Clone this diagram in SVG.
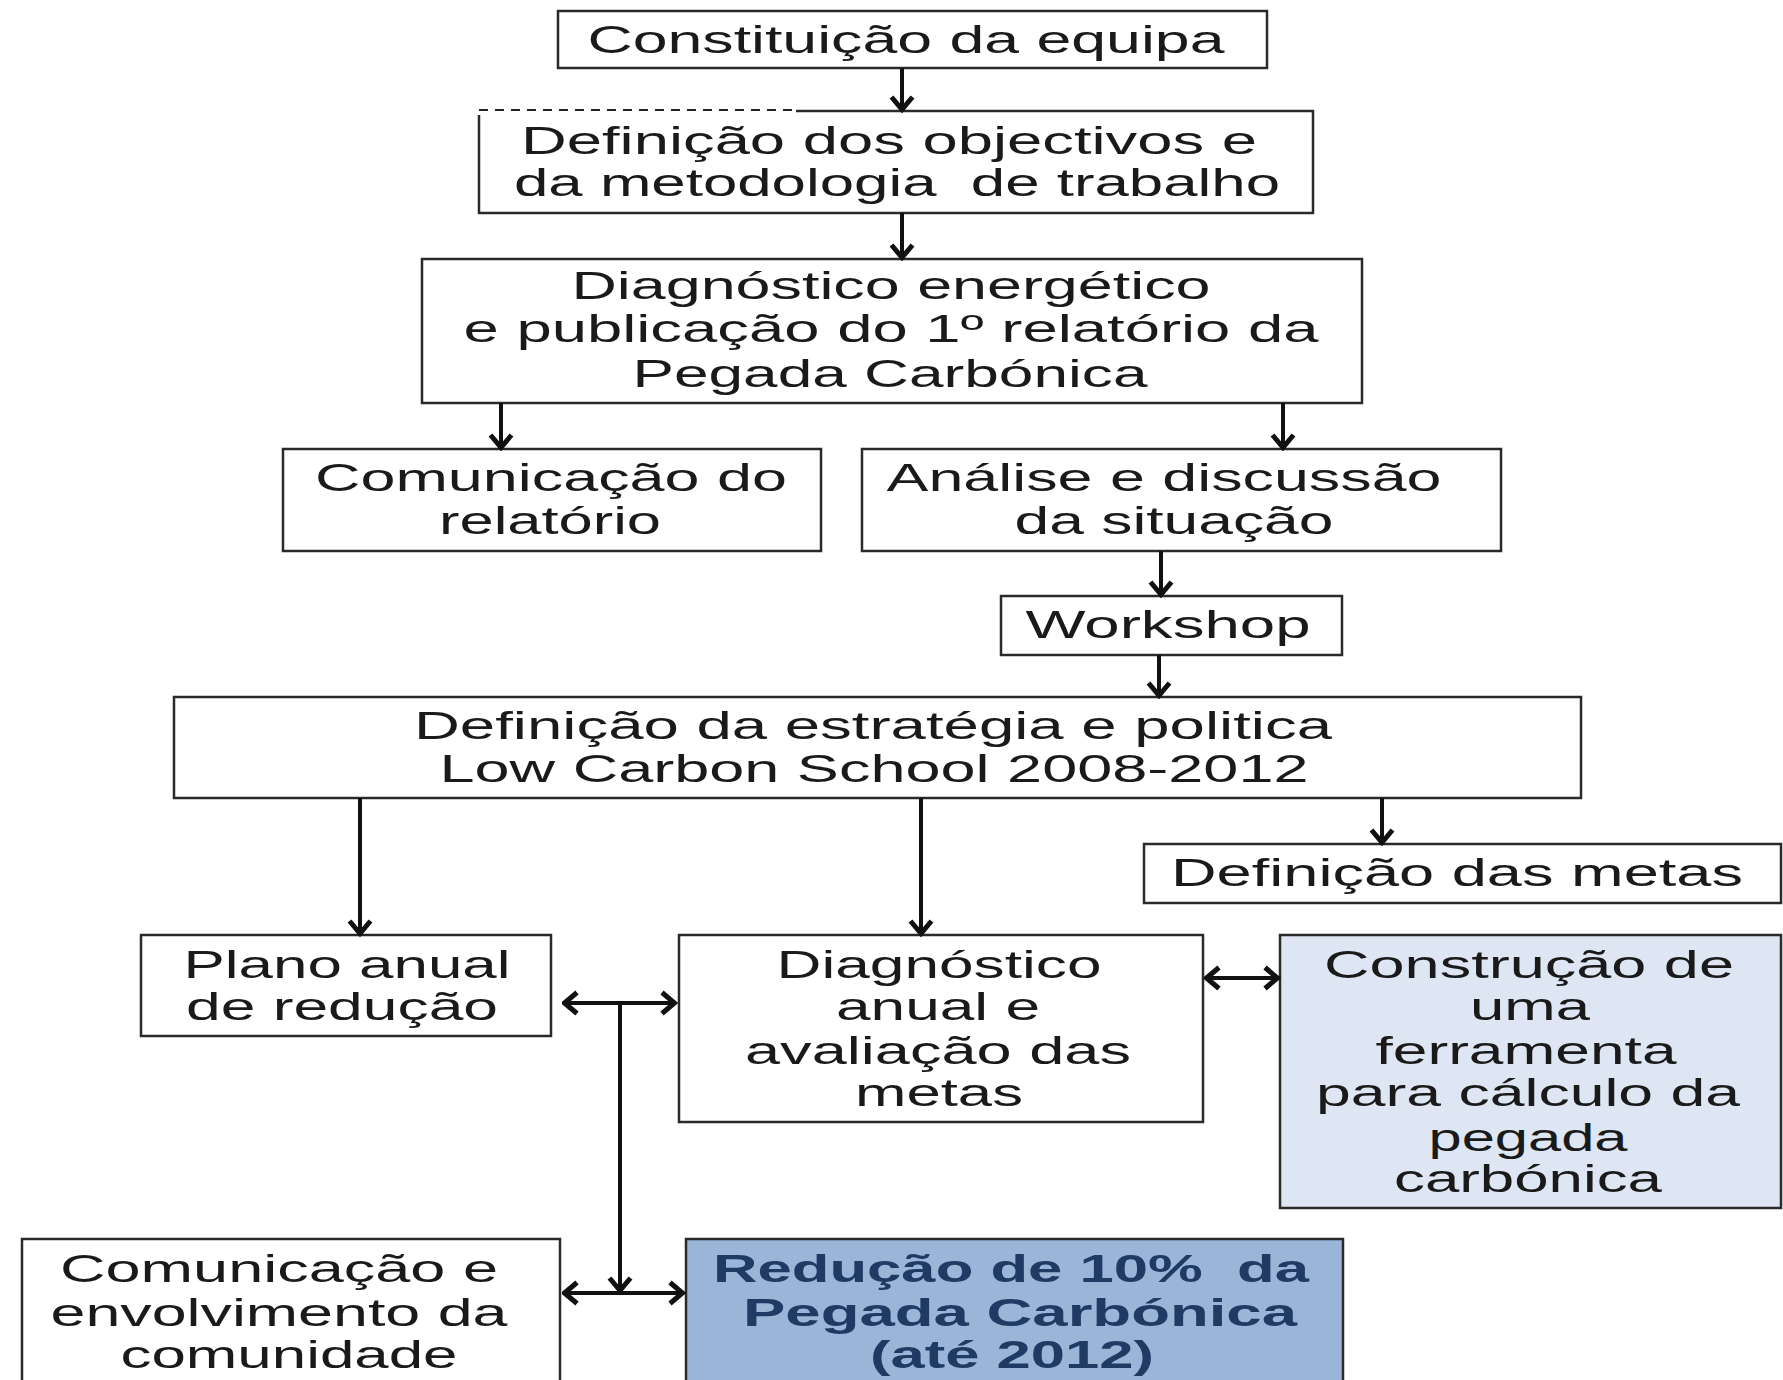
<svg xmlns="http://www.w3.org/2000/svg" width="1783" height="1380" viewBox="0 0 1783 1380">
<style>
.box{fill:#ffffff;stroke:#2a2a2a;stroke-width:2.5}
.light{fill:#dde6f2}
.dark{fill:#9bb5d8}
.t{font-family:"Liberation Sans",Arial,sans-serif;font-size:38px;fill:#1a1a1a;text-anchor:middle}
.tb{font-family:"Liberation Sans",Arial,sans-serif;font-size:38px;font-weight:bold;fill:#1f3a63;text-anchor:middle}
.c{fill:none;stroke:#111;stroke-width:4}
</style>
<defs>
<marker id="ah" viewBox="0 0 18 26" refX="15.5" refY="13" markerWidth="18" markerHeight="26" orient="auto-start-reverse" markerUnits="userSpaceOnUse">
<path d="M2.5,2.5 L15,13 L2.5,23.5" fill="none" stroke="#111" stroke-width="5" stroke-linejoin="miter"/>
</marker>
</defs>
<rect width="1783" height="1380" fill="#ffffff"/>

<g id="n1">
<rect class="box" x="558" y="11" width="709" height="57"/>
<text class="t" x="906" y="53" textLength="637" lengthAdjust="spacingAndGlyphs">Constituição da equipa</text>
</g>

<g id="n2">
<path d="M796,111 L1313,111 L1313,213 L479,213 L479,115" fill="#ffffff" stroke="#2a2a2a" stroke-width="2.5"/>
<line x1="479" y1="110" x2="796" y2="110" stroke="#222" stroke-width="2" stroke-dasharray="9 7"/>
<text class="t" x="889" y="154" textLength="736" lengthAdjust="spacingAndGlyphs">Definição dos objectivos e</text>
<text class="t" x="897" y="196" textLength="766" lengthAdjust="spacingAndGlyphs" xml:space="preserve">da metodologia  de trabalho</text>
</g>

<g id="n3">
<rect class="box" x="422" y="259" width="940" height="144"/>
<text class="t" x="891" y="299" textLength="639" lengthAdjust="spacingAndGlyphs">Diagnóstico energético</text>
<text class="t" x="891" y="342" textLength="855" lengthAdjust="spacingAndGlyphs">e publicação do 1º relatório da</text>
<text class="t" x="890" y="387" textLength="515" lengthAdjust="spacingAndGlyphs">Pegada Carbónica</text>
</g>

<g id="n4">
<rect class="box" x="283" y="449" width="538" height="102"/>
<text class="t" x="551" y="491" textLength="472" lengthAdjust="spacingAndGlyphs">Comunicação do</text>
<text class="t" x="550" y="534" textLength="222" lengthAdjust="spacingAndGlyphs">relatório</text>
</g>

<g id="n5">
<rect class="box" x="862" y="449" width="639" height="102"/>
<text class="t" x="1164" y="491" textLength="555" lengthAdjust="spacingAndGlyphs">Análise e discussão</text>
<text class="t" x="1174" y="534" textLength="319" lengthAdjust="spacingAndGlyphs">da situação</text>
</g>

<g id="n6">
<rect class="box" x="1001" y="596" width="341" height="59"/>
<text class="t" x="1168" y="638" textLength="285" lengthAdjust="spacingAndGlyphs">Workshop</text>
</g>

<g id="n7">
<rect class="box" x="174" y="697" width="1407" height="101"/>
<text class="t" x="873" y="739" textLength="918" lengthAdjust="spacingAndGlyphs">Definição da estratégia e politica</text>
<text class="t" x="874" y="782" textLength="869" lengthAdjust="spacingAndGlyphs">Low Carbon School 2008-2012</text>
</g>

<g id="n8">
<rect class="box" x="1144" y="844" width="637" height="59"/>
<text class="t" x="1457" y="886" textLength="572" lengthAdjust="spacingAndGlyphs">Definição das metas</text>
</g>

<g id="n9">
<rect class="box" x="141" y="935" width="410" height="101"/>
<text class="t" x="347" y="978" textLength="327" lengthAdjust="spacingAndGlyphs">Plano anual</text>
<text class="t" x="342" y="1020" textLength="312" lengthAdjust="spacingAndGlyphs">de redução</text>
</g>

<g id="n10">
<rect class="box" x="679" y="935" width="524" height="187"/>
<text class="t" x="939" y="978" textLength="325" lengthAdjust="spacingAndGlyphs">Diagnóstico</text>
<text class="t" x="938" y="1020" textLength="204" lengthAdjust="spacingAndGlyphs">anual e</text>
<text class="t" x="938" y="1064" textLength="386" lengthAdjust="spacingAndGlyphs">avaliação das</text>
<text class="t" x="939" y="1106" textLength="168" lengthAdjust="spacingAndGlyphs">metas</text>
</g>

<g id="n11">
<rect class="box light" x="1280" y="935" width="501" height="273"/>
<text class="t" x="1529" y="978" textLength="410" lengthAdjust="spacingAndGlyphs">Construção de</text>
<text class="t" x="1530" y="1020" textLength="120" lengthAdjust="spacingAndGlyphs">uma</text>
<text class="t" x="1526" y="1064" textLength="301" lengthAdjust="spacingAndGlyphs">ferramenta</text>
<text class="t" x="1528" y="1106" textLength="424" lengthAdjust="spacingAndGlyphs">para cálculo da</text>
<text class="t" x="1528" y="1151" textLength="199" lengthAdjust="spacingAndGlyphs">pegada</text>
<text class="t" x="1528" y="1192" textLength="268" lengthAdjust="spacingAndGlyphs">carbónica</text>
</g>

<g id="n12">
<rect class="box" x="22" y="1239" width="538" height="160"/>
<text class="t" x="279" y="1282" textLength="438" lengthAdjust="spacingAndGlyphs">Comunicação e</text>
<text class="t" x="279" y="1326" textLength="457" lengthAdjust="spacingAndGlyphs">envolvimento da</text>
<text class="t" x="289" y="1368" textLength="337" lengthAdjust="spacingAndGlyphs">comunidade</text>
</g>

<g id="n13">
<rect class="box dark" x="686" y="1239" width="657" height="160"/>
<text class="tb" x="1011" y="1282" textLength="596" lengthAdjust="spacingAndGlyphs" xml:space="preserve">Redução de 10%  da</text>
<text class="tb" x="1020" y="1326" textLength="554" lengthAdjust="spacingAndGlyphs">Pegada Carbónica</text>
<text class="tb" x="1012" y="1368" textLength="284" lengthAdjust="spacingAndGlyphs">(até 2012)</text>
</g>

<g id="connectors">
<line class="c" x1="902" y1="68" x2="902" y2="110" marker-end="url(#ah)"/>
<line class="c" x1="902" y1="213" x2="902" y2="258" marker-end="url(#ah)"/>
<line class="c" x1="501" y1="403" x2="501" y2="448" marker-end="url(#ah)"/>
<line class="c" x1="1283" y1="403" x2="1283" y2="448" marker-end="url(#ah)"/>
<line class="c" x1="1161" y1="551" x2="1161" y2="595" marker-end="url(#ah)"/>
<line class="c" x1="1159" y1="655" x2="1159" y2="696" marker-end="url(#ah)"/>
<line class="c" x1="360" y1="798" x2="360" y2="934" marker-end="url(#ah)"/>
<line class="c" x1="921" y1="798" x2="921" y2="934" marker-end="url(#ah)"/>
<line class="c" x1="1382" y1="798" x2="1382" y2="843" marker-end="url(#ah)"/>
<line class="c" x1="564" y1="1003" x2="675" y2="1003" marker-start="url(#ah)" marker-end="url(#ah)"/>
<line class="c" x1="1206" y1="978" x2="1278" y2="978" marker-start="url(#ah)" marker-end="url(#ah)"/>
<line class="c" x1="620" y1="1003" x2="620" y2="1291" marker-end="url(#ah)"/>
<line class="c" x1="564" y1="1293" x2="683" y2="1293" marker-start="url(#ah)" marker-end="url(#ah)"/>
</g>
</svg>
